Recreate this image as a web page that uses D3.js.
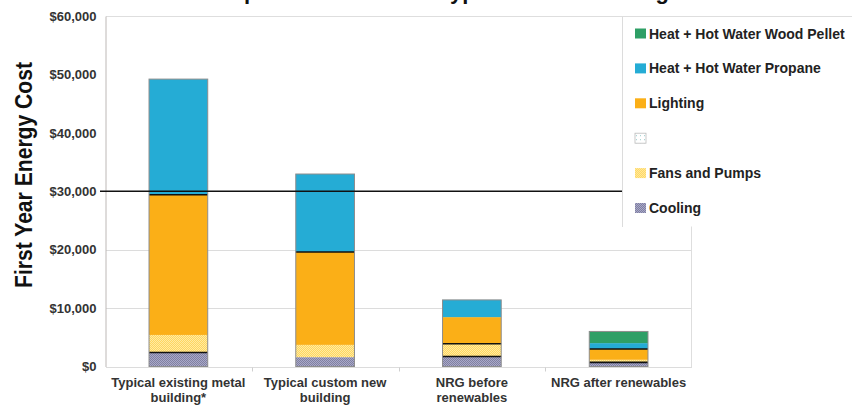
<!DOCTYPE html>
<html>
<head>
<meta charset="utf-8">
<script src="https://cdn.jsdelivr.net/npm/d3@7/dist/d3.min.js"></script>
<style>
  html, body { margin: 0; padding: 0; background: #fff; }
  svg { display: block; font-family: "Liberation Sans", Arial, sans-serif; }
</style>
</head>
<body>
<svg id="chart" width="852" height="409"></svg>
<script>
// Building types compared
const categories = [
  "Typical existing metal building*",
  "Typical custom new building",
  "NRG before renewables",
  "NRG after renewables"
];
const categoryLines = [
  ["Typical existing metal", "building*"],
  ["Typical custom new", "building"],
  ["NRG before", "renewables"],
  ["NRG after renewables"]
];

// First-year cost by end use (USD), stacked bottom to top
const cooling      = [2400, 1600, 1700, 700];
const fansPumps    = [3000, 2100, 2200, 450];
const unlabeled    = [0, 0, 0, 0];
const lighting     = [24000, 15900, 4550, 1850];
const propaneHeat  = [19800, 13350, 2950, 1000];
const pelletHeat   = [0, 0, 0, 2000];

// Segments whose top edge is drawn with a dark rule
const darkEdges = [
  ["lighting", "cooling"],
  ["lighting"],
  ["fans", "cooling"],
  ["lighting", "cooling"]
];

const yTicks = [0, 10000, 20000, 30000, 40000, 50000, 60000];
const gridValues = [10000, 20000];
const referenceLine = 30000;

const series = [
  { key: "cooling",  name: "Cooling",                      values: cooling,     fill: "url(#pat-cooling)" },
  { key: "fans",     name: "Fans and Pumps",               values: fansPumps,   fill: "url(#pat-fans)" },
  { key: "blank",    name: "",                             values: unlabeled,   fill: "url(#pat-blank)" },
  { key: "lighting", name: "Lighting",                     values: lighting,    fill: "#fbaf17" },
  { key: "propane",  name: "Heat + Hot Water Propane",     values: propaneHeat, fill: "#25acd5" },
  { key: "pellet",   name: "Heat + Hot Water Wood Pellet", values: pelletHeat,  fill: "#2e9f66" }
];

const svg = d3.select("#chart");
const defs = svg.append("defs");

function checker(id, a, b) {
  const p = defs.append("pattern").attr("id", id)
    .attr("width", 2).attr("height", 2).attr("patternUnits", "userSpaceOnUse");
  p.append("rect").attr("width", 2).attr("height", 2).attr("fill", a);
  p.append("rect").attr("width", 1).attr("height", 1).attr("fill", b);
  p.append("rect").attr("x", 1).attr("y", 1).attr("width", 1).attr("height", 1).attr("fill", b);
}
checker("pat-cooling", "#a8a8ca", "#80809f");
checker("pat-fans", "#ffd65e", "#ffeaa2");
(function () {
  const p = defs.append("pattern").attr("id", "pat-blank")
    .attr("width", 4).attr("height", 4).attr("patternUnits", "userSpaceOnUse");
  p.append("rect").attr("width", 4).attr("height", 4).attr("fill", "#fff");
  p.append("rect").attr("x", 1).attr("y", 1).attr("width", 1).attr("height", 1).attr("fill", "#9cc");
})();

const x = d3.scaleBand().domain(categories).range([105, 692]).paddingInner(0.6).paddingOuter(0.3);
const step = x.step();
const y = d3.scaleLinear().domain([0, 60000]).range([366.5, 16]);

// Title (sits above the visible area)
svg.append("text")
  .attr("x", 432).attr("y", -1)
  .attr("text-anchor", "middle")
  .attr("font-size", 22).attr("font-weight", "bold").attr("fill", "#111")
  .text("Comparison of NRG to Typical Metal Building");

// Grid
svg.append("g").selectAll("line").data(gridValues).join("line")
  .attr("x1", 106).attr("x2", 692)
  .attr("y1", d => Math.round(y(d)) + 0.5).attr("y2", d => Math.round(y(d)) + 0.5)
  .attr("stroke", "#dcdcdc").attr("stroke-width", 1);

// Frame
svg.append("line").attr("x1", 106).attr("x2", 852).attr("y1", 16.5).attr("y2", 16.5)
  .attr("stroke", "#dedede");
svg.append("line").attr("x1", 691.5).attr("x2", 691.5).attr("y1", 16).attr("y2", 367)
  .attr("stroke", "#dedede");

// Y axis
const yAxis = svg.append("g").attr("transform", "translate(105.5,0)")
  .call(d3.axisLeft(y).tickValues(yTicks).tickSize(0).tickPadding(9)
    .tickFormat(d => "$" + d3.format(",")(d)));
yAxis.select(".domain").attr("stroke", "#bdb8b6");
yAxis.selectAll("text").attr("font-size", 13).attr("font-weight", "bold")
  .attr("fill", "#333").attr("font-family", "'Liberation Sans', Arial, sans-serif");

// X axis
const xAxisY = Math.round(y(0)) + 0.5;
svg.append("line").attr("x1", 106).attr("x2", 692).attr("y1", xAxisY).attr("y2", xAxisY)
  .attr("stroke", "#dcdcdc");
svg.append("g").selectAll("line").data(categories.slice(1)).join("line")
  .attr("x1", d => Math.round(x(d) - step * 0.3) + 0.5)
  .attr("x2", d => Math.round(x(d) - step * 0.3) + 0.5)
  .attr("y1", xAxisY).attr("y2", xAxisY + 4)
  .attr("stroke", "#cfcfcf");

const labels = svg.append("g");
categories.forEach((c, i) => {
  const t = labels.append("text")
    .attr("x", x(c) + x.bandwidth() / 2).attr("y", 387)
    .attr("text-anchor", "middle")
    .attr("font-size", 13).attr("font-weight", "bold").attr("fill", "#333");
  categoryLines[i].forEach((line, j) => {
    t.append("tspan").attr("x", x(c) + x.bandwidth() / 2).attr("dy", j === 0 ? 0 : 15).text(line);
  });
});

// Y title
svg.append("text")
  .attr("transform", "translate(32,175) rotate(-90)")
  .attr("text-anchor", "middle")
  .attr("font-size", 23).attr("font-weight", "bold").attr("fill", "#111")
  .attr("textLength", 226).attr("lengthAdjust", "spacingAndGlyphs")
  .text("First Year Energy Cost");

// Stacked bars
const rows = categories.map((c, i) => {
  const r = { category: c };
  series.forEach(s => { r[s.key] = s.values[i]; });
  return r;
});
const stack = d3.stack().keys(series.map(s => s.key))(rows);

const bars = svg.append("g");
stack.forEach((layer, li) => {
  bars.append("g").selectAll("rect").data(layer).join("rect")
    .attr("x", (d, i) => x(categories[i]))
    .attr("width", x.bandwidth())
    .attr("y", d => y(d[1]))
    .attr("height", d => y(d[0]) - y(d[1]))
    .attr("fill", series[li].fill);
});

// Dark rules on selected segment tops
categories.forEach((c, i) => {
  darkEdges[i].forEach(key => {
    const layer = stack.find(l => l.key === key);
    const top = y(layer[i][1]);
    bars.append("line")
      .attr("x1", x(c)).attr("x2", x(c) + x.bandwidth())
      .attr("y1", top).attr("y2", top)
      .attr("stroke", "#111").attr("stroke-width", 1.6);
  });
});

// Bar outlines
const totals = categories.map((c, i) => d3.sum(series, s => s.values[i]));
bars.append("g").selectAll("rect").data(categories).join("rect")
  .attr("x", d => x(d)).attr("width", x.bandwidth())
  .attr("y", (d, i) => y(totals[i]))
  .attr("height", (d, i) => y(0) - y(totals[i]))
  .attr("fill", "none").attr("stroke", "#8d8d8d").attr("stroke-width", 1);

// Reference line at $30,000
svg.append("line")
  .attr("x1", 100).attr("x2", 623)
  .attr("y1", y(referenceLine)).attr("y2", y(referenceLine))
  .attr("stroke", "#111").attr("stroke-width", 1.3);

// Legend
const legend = svg.append("g");
legend.append("rect").attr("x", 622.5).attr("y", 16.5).attr("width", 240).attr("height", 210)
  .attr("fill", "#fff").attr("stroke", "none");
legend.append("line").attr("x1", 622.5).attr("x2", 622.5).attr("y1", 16).attr("y2", 227)
  .attr("stroke", "#dcdcdc");
legend.append("line").attr("x1", 622.5).attr("x2", 852).attr("y1", 16.5).attr("y2", 16.5)
  .attr("stroke", "#dedede");

const legendOrder = series.slice().reverse();
const ly = d3.scalePoint().domain(legendOrder.map(s => s.key)).range([33.5, 208]);
const items = legend.selectAll("g.item").data(legendOrder).join("g").attr("class", "item")
  .attr("transform", s => `translate(635,${ly(s.key)})`);
items.append("rect")
  .attr("x", 0).attr("y", -5).attr("width", 11).attr("height", 10)
  .attr("fill", s => s.fill)
  .attr("stroke", s => s.key === "blank" ? "#bbb" : "none").attr("stroke-width", 0.8);
items.append("text")
  .attr("x", 14).attr("y", 5)
  .attr("font-size", 14).attr("font-weight", "bold").attr("fill", "#222")
  .text(s => s.name);
</script>
</body>
</html>
